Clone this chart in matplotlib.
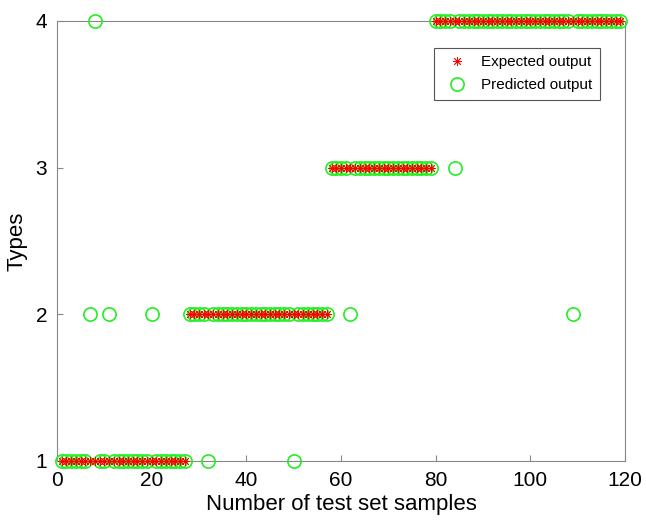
import numpy as np
import matplotlib
matplotlib.use("Agg")
import matplotlib.pyplot as plt

plt.rcParams['font.family'] = ['Liberation Sans', 'DejaVu Sans']

# test samples 1..119, true class of each
samples = np.arange(1, 120)
expected = [1] * 27 + [2] * 30 + [3] * 22 + [4] * 40

# samples where the prediction differs (sample -> predicted type)
wrong_idx = [7, 8, 11, 20, 32, 50, 62, 84, 109]
wrong_val = [2, 4, 2, 2, 1, 1, 2, 3, 2]

predicted = list(expected)
for i, v in zip(wrong_idx, wrong_val):
    predicted[i - 1] = v

fig = plt.figure(figsize=(6.46, 5.24), dpi=100)
ax = fig.add_axes([57/646, 1 - 461/524, (625-57)/646, (461-21)/524])

ax.plot(samples, predicted, linestyle='none', marker='o', markerfacecolor='none',
        markeredgecolor='#22ee22', markersize=9.5, markeredgewidth=1.2,
        label='Predicted output', clip_on=False, zorder=3)
ax.plot(samples, expected, linestyle='none', marker=(8, 2, 0), color='red',
        markersize=6.5, markeredgewidth=0.6, label='Expected output',
        clip_on=False, zorder=4)

ax.set_xlim(0, 120)
ax.set_ylim(1, 4)
ax.set_xticks(np.arange(0, 121, 20))
ax.set_yticks([1, 2, 3, 4])
for s in ax.spines.values():
    s.set_color('#888888')
ax.tick_params(direction='in', length=4, color='#888888', labelsize=15, pad=7)
ax.set_xlabel('Number of test set samples', fontsize=16, labelpad=3)
ax.set_ylabel('Types', fontsize=16, labelpad=6)

h, l = ax.get_legend_handles_labels()
leg = ax.legend(h[::-1], l[::-1], loc='upper right', bbox_to_anchor=(0.97, 0.957),
                fontsize=11, fancybox=False, edgecolor='#555555', framealpha=1,
                borderpad=0.5, handletextpad=0.6, labelspacing=0.6, handlelength=2.0)
leg.get_frame().set_linewidth(0.8)

fig.savefig('out.png', dpi=100)
